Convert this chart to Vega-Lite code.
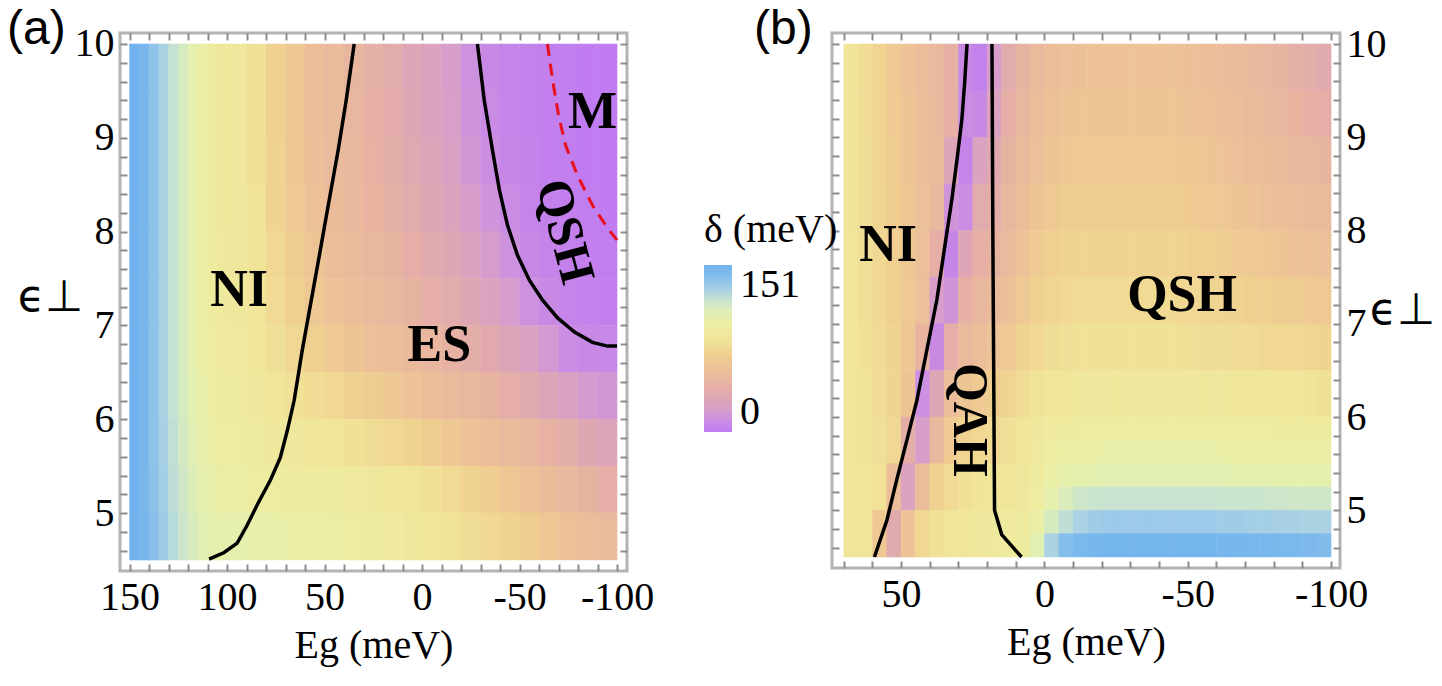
{
"$schema": "https://vega.github.io/schema/vega-lite/v6.json",
"padding": {"left": 5, "top": 4, "right": 5, "bottom": 5},
"background": "white",
"bounds": "flush",
"spacing": 205,
"config": {
  "view": {"stroke": "#b4b4b4", "strokeWidth": 3},
  "axis": {"labelFont": "Liberation Serif", "labelFontSize": 40, "labelColor": "black", "titleFont": "Liberation Serif", "titleFontSize": 40, "titleFontWeight": "normal", "titleColor": "black", "grid": false, "domain": false, "tickColor": "#8c8c8c", "tickWidth": 2, "tickSize": -7, "labelPadding": 13, "labelOverlap": false, "zindex": 1}
},
"resolve": {"scale": {"color": "independent"}},
"datasets": {
"cf": [
{"g":147.5,"t":9.75,"d":150},{"g":142.5,"t":9.75,"d":145},{"g":137.5,"t":9.75,"d":137},{"g":132.5,"t":9.75,"d":128},{"g":127.5,"t":9.75,"d":120},{"g":122.5,"t":9.75,"d":113},{"g":117.5,"t":9.75,"d":106},{"g":112.5,"t":9.75,"d":100},{"g":107.5,"t":9.75,"d":94},{"g":102.5,"t":9.75,"d":89},
{"g":147.5,"t":9.25,"d":150},{"g":142.5,"t":9.25,"d":145},{"g":137.5,"t":9.25,"d":137},{"g":132.5,"t":9.25,"d":128},{"g":127.5,"t":9.25,"d":120},{"g":122.5,"t":9.25,"d":113},{"g":117.5,"t":9.25,"d":106},{"g":112.5,"t":9.25,"d":100},{"g":107.5,"t":9.25,"d":94},{"g":102.5,"t":9.25,"d":89},
{"g":147.5,"t":8.75,"d":150},{"g":142.5,"t":8.75,"d":145},{"g":137.5,"t":8.75,"d":137},{"g":132.5,"t":8.75,"d":128},{"g":127.5,"t":8.75,"d":120},{"g":122.5,"t":8.75,"d":113},{"g":117.5,"t":8.75,"d":106},{"g":112.5,"t":8.75,"d":100},{"g":107.5,"t":8.75,"d":94},{"g":102.5,"t":8.75,"d":89},
{"g":147.5,"t":8.25,"d":150},{"g":142.5,"t":8.25,"d":145},{"g":137.5,"t":8.25,"d":137},{"g":132.5,"t":8.25,"d":128},{"g":127.5,"t":8.25,"d":120},{"g":122.5,"t":8.25,"d":113},{"g":117.5,"t":8.25,"d":106},{"g":112.5,"t":8.25,"d":100},{"g":107.5,"t":8.25,"d":94},{"g":102.5,"t":8.25,"d":89},
{"g":147.5,"t":7.75,"d":150},{"g":142.5,"t":7.75,"d":145},{"g":137.5,"t":7.75,"d":137},{"g":132.5,"t":7.75,"d":128},{"g":127.5,"t":7.75,"d":120},{"g":122.5,"t":7.75,"d":113},{"g":117.5,"t":7.75,"d":106},{"g":112.5,"t":7.75,"d":100},{"g":107.5,"t":7.75,"d":94},{"g":102.5,"t":7.75,"d":90},
{"g":147.5,"t":7.25,"d":150},{"g":142.5,"t":7.25,"d":145},{"g":137.5,"t":7.25,"d":137},{"g":132.5,"t":7.25,"d":128},{"g":127.5,"t":7.25,"d":120},{"g":122.5,"t":7.25,"d":113},{"g":117.5,"t":7.25,"d":106},{"g":112.5,"t":7.25,"d":100},{"g":107.5,"t":7.25,"d":94},{"g":102.5,"t":7.25,"d":90},
{"g":147.5,"t":6.75,"d":150},{"g":142.5,"t":6.75,"d":145},{"g":137.5,"t":6.75,"d":137},{"g":132.5,"t":6.75,"d":128},{"g":127.5,"t":6.75,"d":120},{"g":122.5,"t":6.75,"d":113},{"g":117.5,"t":6.75,"d":106},{"g":112.5,"t":6.75,"d":100},{"g":107.5,"t":6.75,"d":95},{"g":102.5,"t":6.75,"d":91},
{"g":147.5,"t":6.25,"d":150},{"g":142.5,"t":6.25,"d":145},{"g":137.5,"t":6.25,"d":137},{"g":132.5,"t":6.25,"d":128},{"g":127.5,"t":6.25,"d":120},{"g":122.5,"t":6.25,"d":113},{"g":117.5,"t":6.25,"d":107},{"g":112.5,"t":6.25,"d":101},{"g":107.5,"t":6.25,"d":97},{"g":102.5,"t":6.25,"d":93},
{"g":147.5,"t":5.75,"d":150},{"g":142.5,"t":5.75,"d":145},{"g":137.5,"t":5.75,"d":137},{"g":132.5,"t":5.75,"d":129},{"g":127.5,"t":5.75,"d":121},{"g":122.5,"t":5.75,"d":114},{"g":117.5,"t":5.75,"d":108},{"g":112.5,"t":5.75,"d":103},{"g":107.5,"t":5.75,"d":99},{"g":102.5,"t":5.75,"d":96},
{"g":147.5,"t":5.25,"d":150},{"g":142.5,"t":5.25,"d":145},{"g":137.5,"t":5.25,"d":138},{"g":132.5,"t":5.25,"d":130},{"g":127.5,"t":5.25,"d":122},{"g":122.5,"t":5.25,"d":116},{"g":117.5,"t":5.25,"d":110},{"g":112.5,"t":5.25,"d":105},{"g":107.5,"t":5.25,"d":102},{"g":102.5,"t":5.25,"d":99},
{"g":147.5,"t":4.75,"d":149},{"g":142.5,"t":4.75,"d":145},{"g":137.5,"t":4.75,"d":139},{"g":132.5,"t":4.75,"d":131},{"g":127.5,"t":4.75,"d":124},{"g":122.5,"t":4.75,"d":117},{"g":117.5,"t":4.75,"d":112},{"g":112.5,"t":4.75,"d":108},{"g":107.5,"t":4.75,"d":106},{"g":102.5,"t":4.75,"d":104}
],
"ca": [
{"g":95,"t":9.75,"d":87},{"g":85,"t":9.75,"d":80},{"g":75,"t":9.75,"d":70},{"g":65,"t":9.75,"d":63},{"g":55,"t":9.75,"d":56},{"g":45,"t":9.75,"d":51},{"g":35,"t":9.75,"d":46},{"g":25,"t":9.75,"d":41},{"g":15,"t":9.75,"d":36},{"g":5,"t":9.75,"d":30},{"g":-5,"t":9.75,"d":25},{"g":-15,"t":9.75,"d":20},{"g":-25,"t":9.75,"d":13},{"g":-35,"t":9.75,"d":8},{"g":-45,"t":9.75,"d":5},{"g":-55,"t":9.75,"d":3},{"g":-65,"t":9.75,"d":2},{"g":-75,"t":9.75,"d":1},{"g":-85,"t":9.75,"d":0},{"g":-95,"t":9.75,"d":0},
{"g":95,"t":9.25,"d":87},{"g":85,"t":9.25,"d":80},{"g":75,"t":9.25,"d":70},{"g":65,"t":9.25,"d":63},{"g":55,"t":9.25,"d":56},{"g":45,"t":9.25,"d":51},{"g":35,"t":9.25,"d":47},{"g":25,"t":9.25,"d":42},{"g":15,"t":9.25,"d":37},{"g":5,"t":9.25,"d":31},{"g":-5,"t":9.25,"d":26},{"g":-15,"t":9.25,"d":21},{"g":-25,"t":9.25,"d":14},{"g":-35,"t":9.25,"d":9},{"g":-45,"t":9.25,"d":5},{"g":-55,"t":9.25,"d":3},{"g":-65,"t":9.25,"d":2},{"g":-75,"t":9.25,"d":1},{"g":-85,"t":9.25,"d":0},{"g":-95,"t":9.25,"d":0},
{"g":95,"t":8.75,"d":87},{"g":85,"t":8.75,"d":80},{"g":75,"t":8.75,"d":71},{"g":65,"t":8.75,"d":64},{"g":55,"t":8.75,"d":57},{"g":45,"t":8.75,"d":52},{"g":35,"t":8.75,"d":48},{"g":25,"t":8.75,"d":43},{"g":15,"t":8.75,"d":38},{"g":5,"t":8.75,"d":33},{"g":-5,"t":8.75,"d":28},{"g":-15,"t":8.75,"d":23},{"g":-25,"t":8.75,"d":16},{"g":-35,"t":8.75,"d":11},{"g":-45,"t":8.75,"d":6},{"g":-55,"t":8.75,"d":4},{"g":-65,"t":8.75,"d":2},{"g":-75,"t":8.75,"d":1},{"g":-85,"t":8.75,"d":0},{"g":-95,"t":8.75,"d":0},
{"g":95,"t":8.25,"d":88},{"g":85,"t":8.25,"d":81},{"g":75,"t":8.25,"d":72},{"g":65,"t":8.25,"d":66},{"g":55,"t":8.25,"d":59},{"g":45,"t":8.25,"d":54},{"g":35,"t":8.25,"d":50},{"g":25,"t":8.25,"d":45},{"g":15,"t":8.25,"d":41},{"g":5,"t":8.25,"d":36},{"g":-5,"t":8.25,"d":31},{"g":-15,"t":8.25,"d":26},{"g":-25,"t":8.25,"d":20},{"g":-35,"t":8.25,"d":14},{"g":-45,"t":8.25,"d":9},{"g":-55,"t":8.25,"d":5},{"g":-65,"t":8.25,"d":3},{"g":-75,"t":8.25,"d":2},{"g":-85,"t":8.25,"d":1},{"g":-95,"t":8.25,"d":0},
{"g":95,"t":7.75,"d":88},{"g":85,"t":7.75,"d":82},{"g":75,"t":7.75,"d":74},{"g":65,"t":7.75,"d":68},{"g":55,"t":7.75,"d":61},{"g":45,"t":7.75,"d":56},{"g":35,"t":7.75,"d":52},{"g":25,"t":7.75,"d":48},{"g":15,"t":7.75,"d":44},{"g":5,"t":7.75,"d":40},{"g":-5,"t":7.75,"d":35},{"g":-15,"t":7.75,"d":31},{"g":-25,"t":7.75,"d":25},{"g":-35,"t":7.75,"d":19},{"g":-45,"t":7.75,"d":13},{"g":-55,"t":7.75,"d":8},{"g":-65,"t":7.75,"d":5},{"g":-75,"t":7.75,"d":3},{"g":-85,"t":7.75,"d":2},{"g":-95,"t":7.75,"d":1},
{"g":95,"t":7.25,"d":89},{"g":85,"t":7.25,"d":83},{"g":75,"t":7.25,"d":76},{"g":65,"t":7.25,"d":70},{"g":55,"t":7.25,"d":64},{"g":45,"t":7.25,"d":60},{"g":35,"t":7.25,"d":56},{"g":25,"t":7.25,"d":52},{"g":15,"t":7.25,"d":48},{"g":5,"t":7.25,"d":44},{"g":-5,"t":7.25,"d":40},{"g":-15,"t":7.25,"d":36},{"g":-25,"t":7.25,"d":31},{"g":-35,"t":7.25,"d":25},{"g":-45,"t":7.25,"d":19},{"g":-55,"t":7.25,"d":13},{"g":-65,"t":7.25,"d":8},{"g":-75,"t":7.25,"d":5},{"g":-85,"t":7.25,"d":3},{"g":-95,"t":7.25,"d":2},
{"g":95,"t":6.75,"d":90},{"g":85,"t":6.75,"d":85},{"g":75,"t":6.75,"d":79},{"g":65,"t":6.75,"d":74},{"g":55,"t":6.75,"d":70},{"g":45,"t":6.75,"d":66},{"g":35,"t":6.75,"d":62},{"g":25,"t":6.75,"d":58},{"g":15,"t":6.75,"d":55},{"g":5,"t":6.75,"d":51},{"g":-5,"t":6.75,"d":47},{"g":-15,"t":6.75,"d":43},{"g":-25,"t":6.75,"d":39},{"g":-35,"t":6.75,"d":34},{"g":-45,"t":6.75,"d":29},{"g":-55,"t":6.75,"d":23},{"g":-65,"t":6.75,"d":17},{"g":-75,"t":6.75,"d":10},{"g":-85,"t":6.75,"d":8},{"g":-95,"t":6.75,"d":7},
{"g":95,"t":6.25,"d":93},{"g":85,"t":6.25,"d":88},{"g":75,"t":6.25,"d":84},{"g":65,"t":6.25,"d":80},{"g":55,"t":6.25,"d":77},{"g":45,"t":6.25,"d":74},{"g":35,"t":6.25,"d":70},{"g":25,"t":6.25,"d":67},{"g":15,"t":6.25,"d":64},{"g":5,"t":6.25,"d":60},{"g":-5,"t":6.25,"d":56},{"g":-15,"t":6.25,"d":52},{"g":-25,"t":6.25,"d":48},{"g":-35,"t":6.25,"d":44},{"g":-45,"t":6.25,"d":40},{"g":-55,"t":6.25,"d":35},{"g":-65,"t":6.25,"d":29},{"g":-75,"t":6.25,"d":23},{"g":-85,"t":6.25,"d":18},{"g":-95,"t":6.25,"d":16},
{"g":95,"t":5.75,"d":96},{"g":85,"t":5.75,"d":92},{"g":75,"t":5.75,"d":89},{"g":65,"t":5.75,"d":87},{"g":55,"t":5.75,"d":85},{"g":45,"t":5.75,"d":83},{"g":35,"t":5.75,"d":80},{"g":25,"t":5.75,"d":78},{"g":15,"t":5.75,"d":75},{"g":5,"t":5.75,"d":72},{"g":-5,"t":5.75,"d":68},{"g":-15,"t":5.75,"d":64},{"g":-25,"t":5.75,"d":60},{"g":-35,"t":5.75,"d":56},{"g":-45,"t":5.75,"d":52},{"g":-55,"t":5.75,"d":48},{"g":-65,"t":5.75,"d":43},{"g":-75,"t":5.75,"d":38},{"g":-85,"t":5.75,"d":32},{"g":-95,"t":5.75,"d":28},
{"g":95,"t":5.25,"d":100},{"g":85,"t":5.25,"d":97},{"g":75,"t":5.25,"d":95},{"g":65,"t":5.25,"d":94},{"g":55,"t":5.25,"d":93},{"g":45,"t":5.25,"d":92},{"g":35,"t":5.25,"d":90},{"g":25,"t":5.25,"d":88},{"g":15,"t":5.25,"d":86},{"g":5,"t":5.25,"d":83},{"g":-5,"t":5.25,"d":80},{"g":-15,"t":5.25,"d":76},{"g":-25,"t":5.25,"d":72},{"g":-35,"t":5.25,"d":68},{"g":-45,"t":5.25,"d":64},{"g":-55,"t":5.25,"d":59},{"g":-65,"t":5.25,"d":54},{"g":-75,"t":5.25,"d":49},{"g":-85,"t":5.25,"d":44},{"g":-95,"t":5.25,"d":40},
{"g":95,"t":4.75,"d":105},{"g":85,"t":4.75,"d":103},{"g":75,"t":4.75,"d":101},{"g":65,"t":4.75,"d":100},{"g":55,"t":4.75,"d":99},{"g":45,"t":4.75,"d":98},{"g":35,"t":4.75,"d":96},{"g":25,"t":4.75,"d":94},{"g":15,"t":4.75,"d":91},{"g":5,"t":4.75,"d":88},{"g":-5,"t":4.75,"d":85},{"g":-15,"t":4.75,"d":81},{"g":-25,"t":4.75,"d":78},{"g":-35,"t":4.75,"d":75},{"g":-45,"t":4.75,"d":71},{"g":-55,"t":4.75,"d":67},{"g":-65,"t":4.75,"d":63},{"g":-75,"t":4.75,"d":59},{"g":-85,"t":4.75,"d":55},{"g":-95,"t":4.75,"d":52}
],
"cb": [
{"g":67.5,"t":9.75,"d":82},{"g":62.5,"t":9.75,"d":77},{"g":57.5,"t":9.75,"d":71},{"g":52.5,"t":9.75,"d":65},{"g":47.5,"t":9.75,"d":60},{"g":42.5,"t":9.75,"d":55},{"g":37.5,"t":9.75,"d":49},{"g":32.5,"t":9.75,"d":42},{"g":27.5,"t":9.75,"d":8},{"g":22.5,"t":9.75,"d":3},{"g":17.5,"t":9.75,"d":20},{"g":12.5,"t":9.75,"d":36},{"g":7.5,"t":9.75,"d":44},{"g":2.5,"t":9.75,"d":52},{"g":-2.5,"t":9.75,"d":56},{"g":-7.5,"t":9.75,"d":58},{"g":-12.5,"t":9.75,"d":59},{"g":-17.5,"t":9.75,"d":60},{"g":-22.5,"t":9.75,"d":60},{"g":-27.5,"t":9.75,"d":60},{"g":-32.5,"t":9.75,"d":60},{"g":-37.5,"t":9.75,"d":60},{"g":-42.5,"t":9.75,"d":60},{"g":-47.5,"t":9.75,"d":59},{"g":-52.5,"t":9.75,"d":58},{"g":-57.5,"t":9.75,"d":57},{"g":-62.5,"t":9.75,"d":55},{"g":-67.5,"t":9.75,"d":53},{"g":-72.5,"t":9.75,"d":50},{"g":-77.5,"t":9.75,"d":47},{"g":-82.5,"t":9.75,"d":44},{"g":-87.5,"t":9.75,"d":41},{"g":-92.5,"t":9.75,"d":38},{"g":-97.5,"t":9.75,"d":35},
{"g":67.5,"t":9.25,"d":82},{"g":62.5,"t":9.25,"d":77},{"g":57.5,"t":9.25,"d":71},{"g":52.5,"t":9.25,"d":66},{"g":47.5,"t":9.25,"d":61},{"g":42.5,"t":9.25,"d":56},{"g":37.5,"t":9.25,"d":50},{"g":32.5,"t":9.25,"d":42},{"g":27.5,"t":9.25,"d":10},{"g":22.5,"t":9.25,"d":8},{"g":17.5,"t":9.25,"d":25},{"g":12.5,"t":9.25,"d":40},{"g":7.5,"t":9.25,"d":48},{"g":2.5,"t":9.25,"d":55},{"g":-2.5,"t":9.25,"d":59},{"g":-7.5,"t":9.25,"d":61},{"g":-12.5,"t":9.25,"d":62},{"g":-17.5,"t":9.25,"d":62},{"g":-22.5,"t":9.25,"d":62},{"g":-27.5,"t":9.25,"d":62},{"g":-32.5,"t":9.25,"d":62},{"g":-37.5,"t":9.25,"d":62},{"g":-42.5,"t":9.25,"d":62},{"g":-47.5,"t":9.25,"d":61},{"g":-52.5,"t":9.25,"d":60},{"g":-57.5,"t":9.25,"d":59},{"g":-62.5,"t":9.25,"d":57},{"g":-67.5,"t":9.25,"d":55},{"g":-72.5,"t":9.25,"d":53},{"g":-77.5,"t":9.25,"d":50},{"g":-82.5,"t":9.25,"d":47},{"g":-87.5,"t":9.25,"d":45},{"g":-92.5,"t":9.25,"d":42},{"g":-97.5,"t":9.25,"d":40},
{"g":67.5,"t":8.75,"d":82},{"g":62.5,"t":8.75,"d":78},{"g":57.5,"t":8.75,"d":72},{"g":52.5,"t":8.75,"d":67},{"g":47.5,"t":8.75,"d":62},{"g":42.5,"t":8.75,"d":57},{"g":37.5,"t":8.75,"d":51},{"g":32.5,"t":8.75,"d":30},{"g":27.5,"t":8.75,"d":5},{"g":22.5,"t":8.75,"d":25},{"g":17.5,"t":8.75,"d":33},{"g":12.5,"t":8.75,"d":44},{"g":7.5,"t":8.75,"d":52},{"g":2.5,"t":8.75,"d":58},{"g":-2.5,"t":8.75,"d":62},{"g":-7.5,"t":8.75,"d":64},{"g":-12.5,"t":8.75,"d":65},{"g":-17.5,"t":8.75,"d":65},{"g":-22.5,"t":8.75,"d":65},{"g":-27.5,"t":8.75,"d":65},{"g":-32.5,"t":8.75,"d":65},{"g":-37.5,"t":8.75,"d":65},{"g":-42.5,"t":8.75,"d":65},{"g":-47.5,"t":8.75,"d":64},{"g":-52.5,"t":8.75,"d":63},{"g":-57.5,"t":8.75,"d":62},{"g":-62.5,"t":8.75,"d":60},{"g":-67.5,"t":8.75,"d":58},{"g":-72.5,"t":8.75,"d":56},{"g":-77.5,"t":8.75,"d":54},{"g":-82.5,"t":8.75,"d":52},{"g":-87.5,"t":8.75,"d":50},{"g":-92.5,"t":8.75,"d":48},{"g":-97.5,"t":8.75,"d":46},
{"g":67.5,"t":8.25,"d":82},{"g":62.5,"t":8.25,"d":78},{"g":57.5,"t":8.25,"d":73},{"g":52.5,"t":8.25,"d":68},{"g":47.5,"t":8.25,"d":63},{"g":42.5,"t":8.25,"d":58},{"g":37.5,"t":8.25,"d":50},{"g":32.5,"t":8.25,"d":15},{"g":27.5,"t":8.25,"d":10},{"g":22.5,"t":8.25,"d":36},{"g":17.5,"t":8.25,"d":38},{"g":12.5,"t":8.25,"d":48},{"g":7.5,"t":8.25,"d":56},{"g":2.5,"t":8.25,"d":62},{"g":-2.5,"t":8.25,"d":65},{"g":-7.5,"t":8.25,"d":67},{"g":-12.5,"t":8.25,"d":68},{"g":-17.5,"t":8.25,"d":68},{"g":-22.5,"t":8.25,"d":68},{"g":-27.5,"t":8.25,"d":68},{"g":-32.5,"t":8.25,"d":68},{"g":-37.5,"t":8.25,"d":68},{"g":-42.5,"t":8.25,"d":68},{"g":-47.5,"t":8.25,"d":67},{"g":-52.5,"t":8.25,"d":66},{"g":-57.5,"t":8.25,"d":65},{"g":-62.5,"t":8.25,"d":64},{"g":-67.5,"t":8.25,"d":62},{"g":-72.5,"t":8.25,"d":60},{"g":-77.5,"t":8.25,"d":58},{"g":-82.5,"t":8.25,"d":57},{"g":-87.5,"t":8.25,"d":55},{"g":-92.5,"t":8.25,"d":53},{"g":-97.5,"t":8.25,"d":52},
{"g":67.5,"t":7.75,"d":83},{"g":62.5,"t":7.75,"d":79},{"g":57.5,"t":7.75,"d":74},{"g":52.5,"t":7.75,"d":69},{"g":47.5,"t":7.75,"d":64},{"g":42.5,"t":7.75,"d":58},{"g":37.5,"t":7.75,"d":40},{"g":32.5,"t":7.75,"d":6},{"g":27.5,"t":7.75,"d":30},{"g":22.5,"t":7.75,"d":42},{"g":17.5,"t":7.75,"d":44},{"g":12.5,"t":7.75,"d":52},{"g":7.5,"t":7.75,"d":60},{"g":2.5,"t":7.75,"d":66},{"g":-2.5,"t":7.75,"d":69},{"g":-7.5,"t":7.75,"d":71},{"g":-12.5,"t":7.75,"d":72},{"g":-17.5,"t":7.75,"d":72},{"g":-22.5,"t":7.75,"d":72},{"g":-27.5,"t":7.75,"d":72},{"g":-32.5,"t":7.75,"d":72},{"g":-37.5,"t":7.75,"d":72},{"g":-42.5,"t":7.75,"d":72},{"g":-47.5,"t":7.75,"d":71},{"g":-52.5,"t":7.75,"d":70},{"g":-57.5,"t":7.75,"d":69},{"g":-62.5,"t":7.75,"d":68},{"g":-67.5,"t":7.75,"d":66},{"g":-72.5,"t":7.75,"d":65},{"g":-77.5,"t":7.75,"d":63},{"g":-82.5,"t":7.75,"d":62},{"g":-87.5,"t":7.75,"d":60},{"g":-92.5,"t":7.75,"d":59},{"g":-97.5,"t":7.75,"d":58},
{"g":67.5,"t":7.25,"d":83},{"g":62.5,"t":7.25,"d":79},{"g":57.5,"t":7.25,"d":75},{"g":52.5,"t":7.25,"d":70},{"g":47.5,"t":7.25,"d":65},{"g":42.5,"t":7.25,"d":58},{"g":37.5,"t":7.25,"d":20},{"g":32.5,"t":7.25,"d":15},{"g":27.5,"t":7.25,"d":42},{"g":22.5,"t":7.25,"d":48},{"g":17.5,"t":7.25,"d":52},{"g":12.5,"t":7.25,"d":58},{"g":7.5,"t":7.25,"d":65},{"g":2.5,"t":7.25,"d":70},{"g":-2.5,"t":7.25,"d":73},{"g":-7.5,"t":7.25,"d":75},{"g":-12.5,"t":7.25,"d":76},{"g":-17.5,"t":7.25,"d":76},{"g":-22.5,"t":7.25,"d":76},{"g":-27.5,"t":7.25,"d":76},{"g":-32.5,"t":7.25,"d":76},{"g":-37.5,"t":7.25,"d":76},{"g":-42.5,"t":7.25,"d":76},{"g":-47.5,"t":7.25,"d":75},{"g":-52.5,"t":7.25,"d":74},{"g":-57.5,"t":7.25,"d":73},{"g":-62.5,"t":7.25,"d":72},{"g":-67.5,"t":7.25,"d":71},{"g":-72.5,"t":7.25,"d":70},{"g":-77.5,"t":7.25,"d":69},{"g":-82.5,"t":7.25,"d":68},{"g":-87.5,"t":7.25,"d":67},{"g":-92.5,"t":7.25,"d":66},{"g":-97.5,"t":7.25,"d":65},
{"g":67.5,"t":6.75,"d":83},{"g":62.5,"t":6.75,"d":80},{"g":57.5,"t":6.75,"d":76},{"g":52.5,"t":6.75,"d":71},{"g":47.5,"t":6.75,"d":64},{"g":42.5,"t":6.75,"d":45},{"g":37.5,"t":6.75,"d":8},{"g":32.5,"t":6.75,"d":40},{"g":27.5,"t":6.75,"d":52},{"g":22.5,"t":6.75,"d":56},{"g":17.5,"t":6.75,"d":60},{"g":12.5,"t":6.75,"d":65},{"g":7.5,"t":6.75,"d":71},{"g":2.5,"t":6.75,"d":75},{"g":-2.5,"t":6.75,"d":78},{"g":-7.5,"t":6.75,"d":79},{"g":-12.5,"t":6.75,"d":80},{"g":-17.5,"t":6.75,"d":80},{"g":-22.5,"t":6.75,"d":80},{"g":-27.5,"t":6.75,"d":80},{"g":-32.5,"t":6.75,"d":80},{"g":-37.5,"t":6.75,"d":80},{"g":-42.5,"t":6.75,"d":80},{"g":-47.5,"t":6.75,"d":80},{"g":-52.5,"t":6.75,"d":79},{"g":-57.5,"t":6.75,"d":78},{"g":-62.5,"t":6.75,"d":78},{"g":-67.5,"t":6.75,"d":77},{"g":-72.5,"t":6.75,"d":76},{"g":-77.5,"t":6.75,"d":75},{"g":-82.5,"t":6.75,"d":75},{"g":-87.5,"t":6.75,"d":74},{"g":-92.5,"t":6.75,"d":73},{"g":-97.5,"t":6.75,"d":72},
{"g":67.5,"t":6.25,"d":84},{"g":62.5,"t":6.25,"d":81},{"g":57.5,"t":6.25,"d":77},{"g":52.5,"t":6.25,"d":72},{"g":47.5,"t":6.25,"d":62},{"g":42.5,"t":6.25,"d":12},{"g":37.5,"t":6.25,"d":30},{"g":32.5,"t":6.25,"d":55},{"g":27.5,"t":6.25,"d":62},{"g":22.5,"t":6.25,"d":66},{"g":17.5,"t":6.25,"d":68},{"g":12.5,"t":6.25,"d":72},{"g":7.5,"t":6.25,"d":77},{"g":2.5,"t":6.25,"d":81},{"g":-2.5,"t":6.25,"d":84},{"g":-7.5,"t":6.25,"d":86},{"g":-12.5,"t":6.25,"d":87},{"g":-17.5,"t":6.25,"d":88},{"g":-22.5,"t":6.25,"d":88},{"g":-27.5,"t":6.25,"d":88},{"g":-32.5,"t":6.25,"d":88},{"g":-37.5,"t":6.25,"d":88},{"g":-42.5,"t":6.25,"d":88},{"g":-47.5,"t":6.25,"d":88},{"g":-52.5,"t":6.25,"d":88},{"g":-57.5,"t":6.25,"d":87},{"g":-62.5,"t":6.25,"d":87},{"g":-67.5,"t":6.25,"d":86},{"g":-72.5,"t":6.25,"d":86},{"g":-77.5,"t":6.25,"d":85},{"g":-82.5,"t":6.25,"d":84},{"g":-87.5,"t":6.25,"d":83},{"g":-92.5,"t":6.25,"d":82},{"g":-97.5,"t":6.25,"d":80},
{"g":67.5,"t":5.75,"d":84},{"g":62.5,"t":5.75,"d":82},{"g":57.5,"t":5.75,"d":79},{"g":52.5,"t":5.75,"d":74},{"g":47.5,"t":5.75,"d":40},{"g":42.5,"t":5.75,"d":20},{"g":37.5,"t":5.75,"d":50},{"g":32.5,"t":5.75,"d":66},{"g":27.5,"t":5.75,"d":72},{"g":22.5,"t":5.75,"d":75},{"g":17.5,"t":5.75,"d":76},{"g":12.5,"t":5.75,"d":79},{"g":7.5,"t":5.75,"d":83},
{"g":67.5,"t":5.25,"d":85},{"g":62.5,"t":5.25,"d":83},{"g":57.5,"t":5.25,"d":80},{"g":52.5,"t":5.25,"d":55},{"g":47.5,"t":5.25,"d":25},{"g":42.5,"t":5.25,"d":55},{"g":37.5,"t":5.25,"d":70},{"g":32.5,"t":5.25,"d":76},{"g":27.5,"t":5.25,"d":80},{"g":22.5,"t":5.25,"d":82},{"g":17.5,"t":5.25,"d":83},{"g":12.5,"t":5.25,"d":85},{"g":7.5,"t":5.25,"d":88},
{"g":67.5,"t":4.75,"d":85},{"g":62.5,"t":4.75,"d":83},{"g":57.5,"t":4.75,"d":65},{"g":52.5,"t":4.75,"d":35},{"g":47.5,"t":4.75,"d":60},{"g":42.5,"t":4.75,"d":75},{"g":37.5,"t":4.75,"d":80},{"g":32.5,"t":4.75,"d":84},{"g":27.5,"t":4.75,"d":86},{"g":22.5,"t":4.75,"d":88},{"g":17.5,"t":4.75,"d":90},{"g":12.5,"t":4.75,"d":91},{"g":7.5,"t":4.75,"d":94}
],
"cbf": [
{"g":2.5,"t":5.875,"d":87},{"g":-2.5,"t":5.875,"d":91},{"g":-7.5,"t":5.875,"d":94},{"g":-12.5,"t":5.875,"d":95},{"g":-17.5,"t":5.875,"d":96},{"g":-22.5,"t":5.875,"d":97},{"g":-27.5,"t":5.875,"d":97},{"g":-32.5,"t":5.875,"d":97},{"g":-37.5,"t":5.875,"d":97},{"g":-42.5,"t":5.875,"d":97},{"g":-47.5,"t":5.875,"d":97},{"g":-52.5,"t":5.875,"d":97},{"g":-57.5,"t":5.875,"d":97},{"g":-62.5,"t":5.875,"d":96},{"g":-67.5,"t":5.875,"d":96},{"g":-72.5,"t":5.875,"d":95},{"g":-77.5,"t":5.875,"d":95},{"g":-82.5,"t":5.875,"d":94},{"g":-87.5,"t":5.875,"d":94},{"g":-92.5,"t":5.875,"d":93},{"g":-97.5,"t":5.875,"d":92},
{"g":2.5,"t":5.625,"d":90},{"g":-2.5,"t":5.625,"d":95},{"g":-7.5,"t":5.625,"d":98},{"g":-12.5,"t":5.625,"d":99},{"g":-17.5,"t":5.625,"d":100},{"g":-22.5,"t":5.625,"d":101},{"g":-27.5,"t":5.625,"d":101},{"g":-32.5,"t":5.625,"d":101},{"g":-37.5,"t":5.625,"d":101},{"g":-42.5,"t":5.625,"d":101},{"g":-47.5,"t":5.625,"d":101},{"g":-52.5,"t":5.625,"d":101},{"g":-57.5,"t":5.625,"d":101},{"g":-62.5,"t":5.625,"d":100},{"g":-67.5,"t":5.625,"d":100},{"g":-72.5,"t":5.625,"d":100},{"g":-77.5,"t":5.625,"d":99},{"g":-82.5,"t":5.625,"d":99},{"g":-87.5,"t":5.625,"d":99},{"g":-92.5,"t":5.625,"d":98},{"g":-97.5,"t":5.625,"d":98},
{"g":2.5,"t":5.375,"d":93},{"g":-2.5,"t":5.375,"d":100},{"g":-7.5,"t":5.375,"d":104},{"g":-12.5,"t":5.375,"d":106},{"g":-17.5,"t":5.375,"d":107},{"g":-22.5,"t":5.375,"d":108},{"g":-27.5,"t":5.375,"d":108},{"g":-32.5,"t":5.375,"d":108},{"g":-37.5,"t":5.375,"d":108},{"g":-42.5,"t":5.375,"d":108},{"g":-47.5,"t":5.375,"d":108},{"g":-52.5,"t":5.375,"d":108},{"g":-57.5,"t":5.375,"d":108},{"g":-62.5,"t":5.375,"d":108},{"g":-67.5,"t":5.375,"d":107},{"g":-72.5,"t":5.375,"d":107},{"g":-77.5,"t":5.375,"d":107},{"g":-82.5,"t":5.375,"d":106},{"g":-87.5,"t":5.375,"d":106},{"g":-92.5,"t":5.375,"d":106},{"g":-97.5,"t":5.375,"d":106},
{"g":2.5,"t":5.125,"d":96},{"g":-2.5,"t":5.125,"d":106},{"g":-7.5,"t":5.125,"d":111},{"g":-12.5,"t":5.125,"d":116},{"g":-17.5,"t":5.125,"d":118},{"g":-22.5,"t":5.125,"d":119},{"g":-27.5,"t":5.125,"d":119},{"g":-32.5,"t":5.125,"d":119},{"g":-37.5,"t":5.125,"d":119},{"g":-42.5,"t":5.125,"d":119},{"g":-47.5,"t":5.125,"d":119},{"g":-52.5,"t":5.125,"d":119},{"g":-57.5,"t":5.125,"d":119},{"g":-62.5,"t":5.125,"d":118},{"g":-67.5,"t":5.125,"d":118},{"g":-72.5,"t":5.125,"d":118},{"g":-77.5,"t":5.125,"d":117},{"g":-82.5,"t":5.125,"d":117},{"g":-87.5,"t":5.125,"d":116},{"g":-92.5,"t":5.125,"d":116},{"g":-97.5,"t":5.125,"d":116},
{"g":2.5,"t":4.875,"d":100},{"g":-2.5,"t":4.875,"d":113},{"g":-7.5,"t":4.875,"d":122},{"g":-12.5,"t":4.875,"d":128},{"g":-17.5,"t":4.875,"d":131},{"g":-22.5,"t":4.875,"d":132},{"g":-27.5,"t":4.875,"d":132},{"g":-32.5,"t":4.875,"d":132},{"g":-37.5,"t":4.875,"d":132},{"g":-42.5,"t":4.875,"d":132},{"g":-47.5,"t":4.875,"d":132},{"g":-52.5,"t":4.875,"d":132},{"g":-57.5,"t":4.875,"d":132},{"g":-62.5,"t":4.875,"d":131},{"g":-67.5,"t":4.875,"d":131},{"g":-72.5,"t":4.875,"d":130},{"g":-77.5,"t":4.875,"d":130},{"g":-82.5,"t":4.875,"d":129},{"g":-87.5,"t":4.875,"d":129},{"g":-92.5,"t":4.875,"d":128},{"g":-97.5,"t":4.875,"d":128},
{"g":2.5,"t":4.625,"d":108},{"g":-2.5,"t":4.625,"d":128},{"g":-7.5,"t":4.625,"d":140},{"g":-12.5,"t":4.625,"d":144},{"g":-17.5,"t":4.625,"d":146},{"g":-22.5,"t":4.625,"d":147},{"g":-27.5,"t":4.625,"d":147},{"g":-32.5,"t":4.625,"d":147},{"g":-37.5,"t":4.625,"d":147},{"g":-42.5,"t":4.625,"d":147},{"g":-47.5,"t":4.625,"d":147},{"g":-52.5,"t":4.625,"d":147},{"g":-57.5,"t":4.625,"d":147},{"g":-62.5,"t":4.625,"d":146},{"g":-67.5,"t":4.625,"d":146},{"g":-72.5,"t":4.625,"d":145},{"g":-77.5,"t":4.625,"d":145},{"g":-82.5,"t":4.625,"d":144},{"g":-87.5,"t":4.625,"d":144},{"g":-92.5,"t":4.625,"d":143},{"g":-97.5,"t":4.625,"d":142}
],
"la": [
{"id":"l1","i":0,"g":109.2,"t":4.51},{"id":"l1","i":1,"g":101.5,"t":4.58},{"id":"l1","i":2,"g":94.8,"t":4.68},{"id":"l1","i":3,"g":89.7,"t":4.87},{"id":"l1","i":4,"g":84.0,"t":5.11},{"id":"l1","i":5,"g":77.8,"t":5.35},{"id":"l1","i":6,"g":72.7,"t":5.59},{"id":"l1","i":7,"g":69.1,"t":5.88},{"id":"l1","i":8,"g":65.6,"t":6.2},{"id":"l1","i":9,"g":61.4,"t":6.74},{"id":"l1","i":10,"g":56.8,"t":7.27},{"id":"l1","i":11,"g":52.2,"t":7.8},{"id":"l1","i":12,"g":47.6,"t":8.34},{"id":"l1","i":13,"g":43.0,"t":8.87},{"id":"l1","i":14,"g":38.9,"t":9.4},{"id":"l1","i":15,"g":34.8,"t":10.0},
{"id":"l2","i":0,"g":-28.4,"t":10.0},{"id":"l2","i":1,"g":-31.9,"t":9.4},{"id":"l2","i":2,"g":-36.1,"t":8.87},{"id":"l2","i":3,"g":-39.7,"t":8.44},{"id":"l2","i":4,"g":-43.8,"t":8.07},{"id":"l2","i":5,"g":-48.9,"t":7.75},{"id":"l2","i":6,"g":-55.1,"t":7.48},{"id":"l2","i":7,"g":-61.8,"t":7.27},{"id":"l2","i":8,"g":-69.5,"t":7.08},{"id":"l2","i":9,"g":-78.2,"t":6.93},{"id":"l2","i":10,"g":-87.4,"t":6.82},{"id":"l2","i":11,"g":-95.1,"t":6.78},{"id":"l2","i":12,"g":-100,"t":6.78}
],
"ra": [
{"id":"r","i":0,"g":-64.3,"t":10.0},{"id":"r","i":1,"g":-66.9,"t":9.62},{"id":"r","i":2,"g":-70.0,"t":9.24},{"id":"r","i":3,"g":-73.6,"t":8.92},{"id":"r","i":4,"g":-79.7,"t":8.6},{"id":"r","i":5,"g":-87.4,"t":8.28},{"id":"r","i":6,"g":-95.1,"t":8.04},{"id":"r","i":7,"g":-100,"t":7.91}
],
"lb": [
{"id":"b1","i":0,"g":59.3,"t":4.5},{"id":"b1","i":1,"g":54.9,"t":4.9},{"id":"b1","i":2,"g":51.5,"t":5.33},{"id":"b1","i":3,"g":48.0,"t":5.75},{"id":"b1","i":4,"g":44.5,"t":6.18},{"id":"b1","i":5,"g":41.0,"t":6.72},{"id":"b1","i":6,"g":37.5,"t":7.26},{"id":"b1","i":7,"g":35.0,"t":7.78},{"id":"b1","i":8,"g":32.3,"t":8.33},{"id":"b1","i":9,"g":30.5,"t":8.76},{"id":"b1","i":10,"g":28.8,"t":9.19},{"id":"b1","i":11,"g":27.8,"t":9.6},{"id":"b1","i":12,"g":27.0,"t":10.0},
{"id":"b2","i":0,"g":18.3,"t":10.0},{"id":"b2","i":1,"g":18.0,"t":8.0},{"id":"b2","i":2,"g":17.6,"t":6.0},{"id":"b2","i":3,"g":17.4,"t":5.0},{"id":"b2","i":4,"g":14.9,"t":4.74},{"id":"b2","i":5,"g":8.0,"t":4.5}
],
"ta": [{"s":"NI","g":93.8,"t":7.38},{"s":"ES","g":-8.9,"t":6.79},{"s":"M","g":-87.4,"t":9.28}],
"qa": [{"s":"QSH","g":-73,"t":8.0}],
"tb": [{"s":"NI","g":54.5,"t":7.85},{"s":"QSH","g":-48,"t":7.31}],
"qb": [{"s":"QAH","g":26.3,"t":5.97}]
},
"hconcat": [
{
 "width": 507, "height": 538,
 "title": {"text": "(a)", "anchor": "start", "frame": "group", "font": "Liberation Sans", "fontSize": 48, "fontWeight": "normal", "color": "black", "baseline": "alphabetic", "offset": 0, "dx": -113, "dy": 68},
 "resolve": {"axis": {"x": "independent", "y": "independent"}},
 "layer": [
  {"data": {"name": "ca"}, "mark": {"type": "rect", "width": 20, "height": 47.5},
   "encoding": {
    "x": {"field": "g", "type": "quantitative", "scale": {"domain": [-105.1, 154.9], "reverse": true, "nice": false, "zero": false}, "axis": {"values": [150,140,130,120,110,100,90,80,70,60,50,40,30,20,10,0,-10,-20,-30,-40,-50,-60,-70,-80,-90,-100], "labelExpr": "datum.value % 50 === 0 ? '' + datum.value : ''", "title": "Eg (meV)", "titlePadding": 8}},
    "y": {"field": "t", "type": "quantitative", "scale": {"domain": [4.383, 10.117], "nice": false, "zero": false}, "axis": {"values": [4.6,4.8,5,5.2,5.4,5.6,5.8,6,6.2,6.4,6.6,6.8,7,7.2,7.4,7.6,7.8,8,8.2,8.4,8.6,8.8,9,9.2,9.4,9.6,9.8,10], "labelExpr": "datum.value % 1 === 0 ? '' + datum.value : ''", "title": "ϵ⊥", "titleAngle": 0, "titleX": -70, "titleY": 264, "titleAlign": "center", "titleBaseline": "middle", "titleFont": "DejaVu Sans", "titleFontSize": 44}},
    "color": {"field": "d", "type": "quantitative", "scale": {"domain": [0,12,21,33,45,58,70,82,95,107,119,131,145,151], "range": ["#c07cf0","#cc90e0","#d8a0c8","#e0a8b0","#e8b4a0","#ecc098","#f0d090","#f0e498","#eeeca0","#e4f0b0","#c8e4d0","#a0cce8","#78b6ec","#70b2ee"], "interpolate": "rgb"}, "legend": null}
   }},
  {"data": {"name": "cf"}, "mark": {"type": "rect", "width": 10.3, "height": 47.5},
   "encoding": {
    "x": {"field": "g", "type": "quantitative", "axis": {"orient": "top", "values": [150,140,130,120,110,100,90,80,70,60,50,40,30,20,10,0,-10,-20,-30,-40,-50,-60,-70,-80,-90,-100], "labels": false, "title": null}},
    "y": {"field": "t", "type": "quantitative", "axis": {"orient": "right", "values": [4.6,4.8,5,5.2,5.4,5.6,5.8,6,6.2,6.4,6.6,6.8,7,7.2,7.4,7.6,7.8,8,8.2,8.4,8.6,8.8,9,9.2,9.4,9.6,9.8,10], "labels": false, "title": null}},
    "color": {"field": "d", "type": "quantitative", "legend": null}
   }},
  {"data": {"name": "la"}, "mark": {"type": "line", "color": "black", "strokeWidth": 3.5},
   "encoding": {"x": {"field": "g", "type": "quantitative", "axis": null}, "y": {"field": "t", "type": "quantitative", "axis": null}, "detail": {"field": "id"}, "order": {"field": "i"}}},
  {"data": {"name": "ra"}, "mark": {"type": "line", "color": "#e8101c", "strokeWidth": 3, "strokeDash": [12, 8]},
   "encoding": {"x": {"field": "g", "type": "quantitative", "axis": null}, "y": {"field": "t", "type": "quantitative", "axis": null}, "order": {"field": "i"}}},
  {"data": {"name": "ta"}, "mark": {"type": "text", "font": "Liberation Serif", "fontWeight": "bold", "fontSize": 52, "align": "center", "baseline": "middle", "color": "black"},
   "encoding": {"x": {"field": "g", "type": "quantitative", "axis": null}, "y": {"field": "t", "type": "quantitative", "axis": null}, "text": {"field": "s"}}},
  {"data": {"name": "qa"}, "mark": {"type": "text", "font": "Liberation Serif", "fontWeight": "bold", "fontSize": 50, "align": "center", "baseline": "middle", "color": "black", "angle": 75},
   "encoding": {"x": {"field": "g", "type": "quantitative", "axis": null}, "y": {"field": "t", "type": "quantitative", "axis": null}, "text": {"field": "s"}}}
 ]
},
{
 "width": 508, "height": 535,
 "title": {"text": "(b)", "anchor": "start", "frame": "group", "font": "Liberation Sans", "fontSize": 48, "fontWeight": "normal", "color": "black", "baseline": "alphabetic", "offset": 0, "dx": -78, "dy": 68},
 "resolve": {"axis": {"x": "independent", "y": "independent"}},
 "layer": [
  {"data": {"name": "cb"}, "mark": {"type": "rect", "width": 14.8, "height": 47.2},
   "encoding": {
    "x": {"field": "g", "type": "quantitative", "scale": {"domain": [-103.1, 74.1], "reverse": true, "nice": false, "zero": false}, "axis": {"values": [70,60,50,40,30,20,10,0,-10,-20,-30,-40,-50,-60,-70,-80,-90,-100], "labelExpr": "datum.value % 50 === 0 ? '' + datum.value : ''", "title": "Eg (meV)", "titlePadding": 8}},
    "y": {"field": "t", "type": "quantitative", "scale": {"domain": [4.382, 10.118], "nice": false, "zero": false}, "axis": {"orient": "right", "values": [4.6,4.8,5,5.2,5.4,5.6,5.8,6,6.2,6.4,6.6,6.8,7,7.2,7.4,7.6,7.8,8,8.2,8.4,8.6,8.8,9,9.2,9.4,9.6,9.8,10], "labelExpr": "datum.value % 1 === 0 ? '' + datum.value : ''", "title": "ϵ⊥", "titleAngle": 0, "titleX": 62, "titleY": 277, "titleAlign": "center", "titleBaseline": "middle", "titleFont": "DejaVu Sans", "titleFontSize": 44}},
    "color": {"field": "d", "type": "quantitative", "scale": {"domain": [0,12,21,33,45,58,70,82,95,107,119,131,145,151], "range": ["#c07cf0","#cc90e0","#d8a0c8","#e0a8b0","#e8b4a0","#ecc098","#f0d090","#f0e498","#eeeca0","#e4f0b0","#c8e4d0","#a0cce8","#78b6ec","#70b2ee"], "interpolate": "rgb"},
     "legend": {"orient": "none", "legendX": -128, "legendY": 177, "title": "δ (meV)", "titleFont": "Liberation Serif", "titleFontSize": 40, "titleFontWeight": "normal", "titleColor": "black", "titlePadding": 15, "titleAnchor": "start", "gradientLength": 167, "gradientThickness": 28, "gradientStrokeWidth": 0, "values": [0, 151], "labelFont": "Liberation Serif", "labelFontSize": 40, "labelColor": "black", "labelOffset": 8, "direction": "vertical"}}
   }},
  {"data": {"name": "cbf"}, "mark": {"type": "rect", "width": 14.8, "height": 23.8},
   "encoding": {"x": {"field": "g", "type": "quantitative", "axis": null}, "y": {"field": "t", "type": "quantitative", "axis": null}, "color": {"field": "d", "type": "quantitative", "legend": null}}},
  {"data": {"name": "lb"}, "mark": {"type": "line", "color": "black", "strokeWidth": 3.5},
   "encoding": {"x": {"field": "g", "type": "quantitative", "axis": {"orient": "top", "values": [70,60,50,40,30,20,10,0,-10,-20,-30,-40,-50,-60,-70,-80,-90,-100], "labels": false, "title": null}}, "y": {"field": "t", "type": "quantitative", "axis": {"orient": "left", "values": [4.6,4.8,5,5.2,5.4,5.6,5.8,6,6.2,6.4,6.6,6.8,7,7.2,7.4,7.6,7.8,8,8.2,8.4,8.6,8.8,9,9.2,9.4,9.6,9.8,10], "labels": false, "title": null}}, "detail": {"field": "id"}, "order": {"field": "i"}}},
  {"data": {"name": "tb"}, "mark": {"type": "text", "font": "Liberation Serif", "fontWeight": "bold", "fontSize": 52, "align": "center", "baseline": "middle", "color": "black"},
   "encoding": {"x": {"field": "g", "type": "quantitative", "axis": null}, "y": {"field": "t", "type": "quantitative", "axis": null}, "text": {"field": "s"}}},
  {"data": {"name": "qb"}, "mark": {"type": "text", "font": "Liberation Serif", "fontWeight": "bold", "fontSize": 50, "align": "center", "baseline": "middle", "color": "black", "angle": 90},
   "encoding": {"x": {"field": "g", "type": "quantitative", "axis": null}, "y": {"field": "t", "type": "quantitative", "axis": null}, "text": {"field": "s"}}}
 ]
}
]
}
